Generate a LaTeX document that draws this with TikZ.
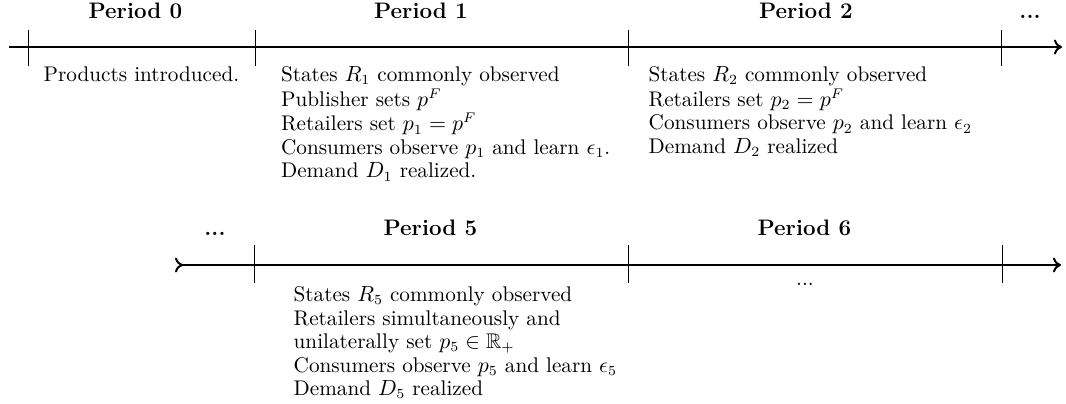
\documentclass[tikz,border=0pt]{standalone}
\usepackage{amssymb}
\usetikzlibrary{arrows.meta}
\begin{document}
\begin{tikzpicture}[x=0.5pt,y=-0.5pt,>={To[length=4pt,width=7.5pt]},
  axis/.style={line width=1pt},
  tickmark/.style={line width=0.45pt},
  title/.style={font=\fontsize{11.2}{13}\selectfont\bfseries, anchor=base, inner sep=0pt},
  body/.style={font=\fontsize{10.6}{11.75}\selectfont, anchor=base west, inner sep=0pt},
  dotsnode/.style={font=\fontsize{10.6}{11.75}\selectfont, anchor=base, inner sep=0pt}]
\useasboundingbox (0,0) rectangle (1066,403);
% first time line
\coordinate (a0) at (9,47);
\coordinate (a1) at (1062,47);
\draw[axis,->] (a0) -- (a1);
\foreach \x [count=\i] in {28,255,628,1001}{
  \coordinate (ta\i) at (\x,30);
  \coordinate (tb\i) at (\x,66);
  \draw[tickmark] (ta\i) -- (tb\i);
}
\node[title] (p0) at (135.5,18.5) {Period 0};
\node[title] (p1) at (421,18.5) {Period 1};
\node[title] (p2) at (806,18.5) {Period 2};
\node[title] (pd) at (1030,18.5) {...};
\node[body] (t0) at (43.3,81.7) {Products introduced.};
\node[body] (t1) at (280.7,81.7) {\begin{tabular}[t]{@{}l@{}}
States $R_1$ commonly observed\\
Publisher sets $p^F$\\
Retailers set $p_1 = p^F$\\
Consumers observe $p_1$ and learn $\epsilon_1$.\\
Demand $D_1$ realized.\end{tabular}};
\node[body] (t2) at (648.3,81.7) {\begin{tabular}[t]{@{}l@{}}
States $R_2$ commonly observed\\
Retailers set $p_2 = p^F$\\
Consumers observe $p_2$ and learn $\epsilon_2$\\
Demand $D_2$ realized\end{tabular}};
% second time line
\coordinate (b0) at (175,265);
\coordinate (b1) at (1061,265);
\draw[axis,>->] (b0) -- (b1);
\foreach \x [count=\i] in {254,628,1002}{
  \coordinate (tc\i) at (\x,245);
  \coordinate (td\i) at (\x,283);
  \draw[tickmark] (tc\i) -- (td\i);
}
\node[title] (qd) at (215,235) {...};
\node[title] (p5) at (430.5,235) {Period 5};
\node[title] (p6) at (804.5,235) {Period 6};
\node[body] (t5) at (293.3,301.7) {\begin{tabular}[t]{@{}l@{}}
States $R_5$ commonly observed\\
Retailers simultaneously and\\
unilaterally set $p_5 \in \mathbb{R}_+$\\
Consumers observe $p_5$ and learn $\epsilon_5$\\
Demand $D_5$ realized\end{tabular}};
\node[dotsnode] (t6) at (805,285) {...};
\end{tikzpicture}
\end{document}
